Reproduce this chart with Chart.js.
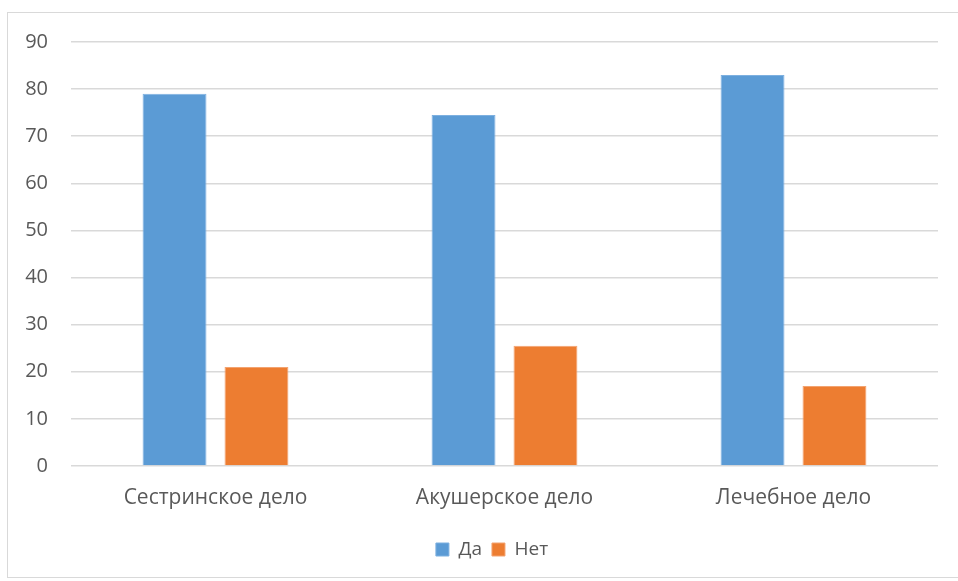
<!DOCTYPE html>
<html>
<head>
<meta charset="utf-8">
<script src="https://cdn.jsdelivr.net/npm/chart.js@4"></script>
<style>
html,body{margin:0;padding:0;background:#fff;overflow:hidden;}
#wrap{position:absolute;left:0;top:0;width:958px;height:581px;}
#frame{position:absolute;left:7px;top:12px;width:960px;height:566px;border:1px solid #d9d9d9;box-sizing:border-box;}
canvas{position:absolute;left:0;top:0;}
</style>
</head>
<body>
<div id="wrap">
<div id="frame"></div>
<canvas id="c" width="958" height="581"></canvas>
</div>
<script>
const categories = ["Сестринское дело", "Акушерское дело", "Лечебное дело"];
const seriesNames = ["Да", "Нет"];
const yesValues = [79, 74.5, 83];
const noValues = [21, 25.5, 17];
const yTicks = [0, 10, 20, 30, 40, 50, 60, 70, 80, 90];

const FONT = "'Open Sans', 'Noto Sans', sans-serif";

const shiftLegend = {
  id: 'shiftLegend',
  afterUpdate(chart) {
    const lg = chart.legend;
    if (lg) {
      lg.left += 23; lg.right += 23;
      lg.adjustHitBoxes();
    }
  }
};

new Chart(document.getElementById('c'), {
  type: 'bar',
  data: {
    labels: categories,
    datasets: [
      {label: seriesNames[0], data: yesValues, backgroundColor: '#5B9BD5', borderColor: '#7DB0E0', borderWidth: 1,
       categoryPercentage: 0.567, barPercentage: 0.78},
      {label: seriesNames[1], data: noValues, backgroundColor: '#ED7D31', borderColor: '#F3A370', borderWidth: 1,
       categoryPercentage: 0.567, barPercentage: 0.78}
    ]
  },
  plugins: [shiftLegend],
  options: {
    responsive: false,
    animation: false,
    layout: {padding: {left: 0, right: 20, top: 42, bottom: 12}},
    plugins: {
      legend: {
        position: 'bottom',
        labels: {
          font: {family: FONT, size: 19},
          color: '#595959',
          boxWidth: 13, boxHeight: 13,
          padding: 10
        }
      },
      tooltip: {enabled: false}
    },
    scales: {
      x: {
        grid: {display: false, drawTicks: false},
        border: {display: false},
        ticks: {font: {family: FONT, size: 21}, color: '#595959', padding: 19, maxRotation: 0},
        afterFit: (s) => { s.height = 64; }
      },
      y: {
        min: 0, max: 90,
        afterBuildTicks: (s) => { s.ticks = yTicks.map(v => ({value: v})); },
        grid: {color: '#d9d9d9', lineWidth: 1.5, drawTicks: false},
        border: {display: false},
        ticks: {font: {family: FONT, size: 20}, color: '#595959', padding: 23},
        afterFit: (s) => { s.width = 71; }
      }
    }
  }
});
</script>
</body>
</html>
